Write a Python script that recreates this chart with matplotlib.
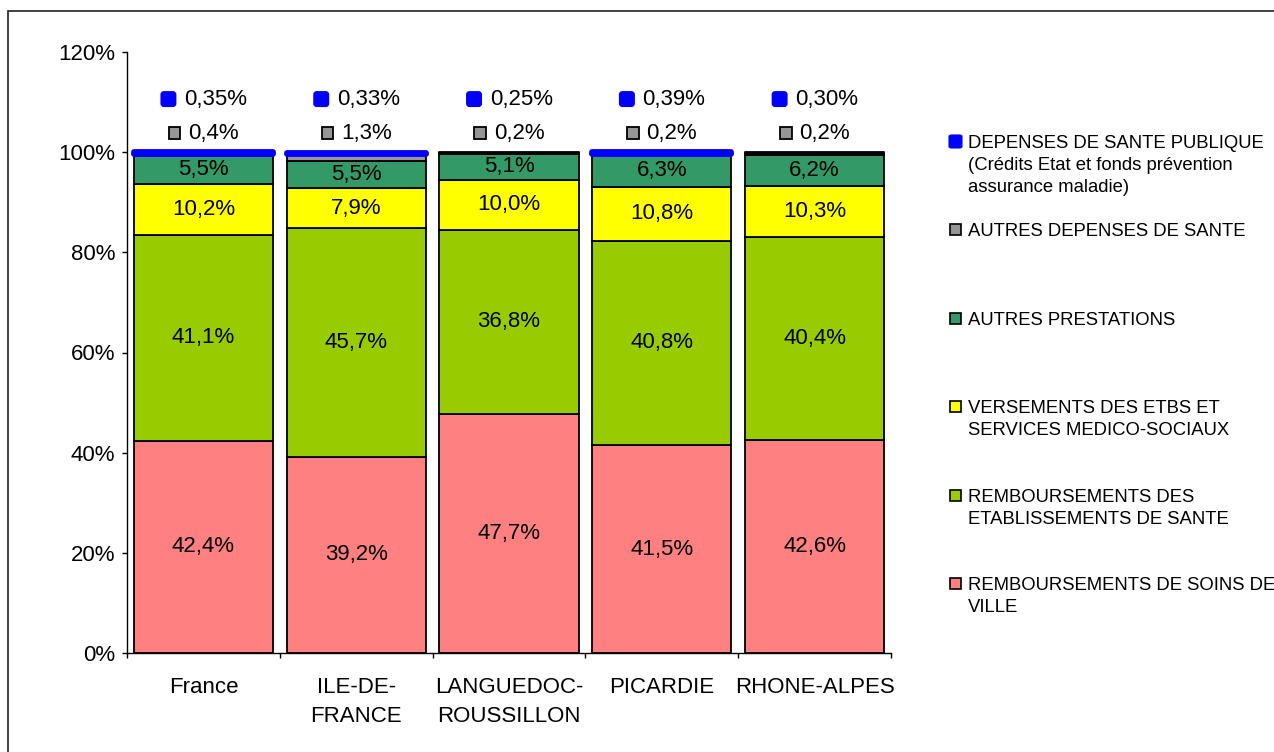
import matplotlib
matplotlib.use("Agg")
import matplotlib.pyplot as plt
import numpy as np
from matplotlib.patches import Rectangle, FancyBboxPatch
from matplotlib.offsetbox import HPacker, TextArea, DrawingArea, AnnotationBbox

plt.rcParams['font.family'] = ['Liberation Sans', 'DejaVu Sans']

# Regions and the share (%) of each spending item
regions = ['France', 'ILE-DE-\nFRANCE', 'LANGUEDOC-\nROUSSILLON', 'PICARDIE', 'RHONE-ALPES']
soins_ville = [42.4, 39.2, 47.7, 41.5, 42.6]
etablissements = [41.1, 45.7, 36.8, 40.8, 40.4]
medico_social = [10.2, 7.9, 10.0, 10.8, 10.3]
autres_prestations = [5.5, 5.5, 5.1, 6.3, 6.2]
autres_depenses = [0.4, 1.3, 0.2, 0.2, 0.2]
sante_publique = [0.35, 0.33, 0.25, 0.39, 0.30]

series_names = [
    'REMBOURSEMENTS DE SOINS DE\nVILLE',
    'REMBOURSEMENTS DES\nETABLISSEMENTS DE SANTE',
    'VERSEMENTS DES ETBS ET\nSERVICES MEDICO-SOCIAUX',
    'AUTRES PRESTATIONS',
    'AUTRES DEPENSES DE SANTE',
    'DEPENSES DE SANTE PUBLIQUE\n(Crédits Etat et fonds prévention\nassurance maladie)',
]
colors = ['#FF8080', '#99CC00', '#FFFF00', '#339966', '#969696', '#0000FF']

W, H = 1274, 752
fig = plt.figure(figsize=(W / 100, H / 100), dpi=100)
ax = fig.add_axes([127 / W, 1 - 653 / H, (891 - 127) / W, (653 - 52) / H])

x = np.arange(len(regions))
width = 0.91
stack = [soins_ville, etablissements, medico_social, autres_prestations, autres_depenses]
bottom = np.zeros(len(regions))
for vals, col in zip(stack, colors[:5]):
    vals = np.asarray(vals, dtype=float)
    ax.bar(x, vals, width, bottom=bottom, color=col, edgecolor='black', linewidth=1.3, zorder=2)
    bottom += vals

# thin public-health slice: emphasised with a thick outline when tall enough to render
pub = np.asarray(sante_publique, dtype=float)
visible = pub >= 0.32
bars = ax.bar(x, pub, width, bottom=bottom, color=colors[5],
              edgecolor=['#0000FF' if v else 'black' for v in visible],
              linewidth=[4.2 if v else 1.3 for v in visible], zorder=3)
for b in bars:
    b.set_joinstyle('round')

# values inside the segments
def fmt(v, nd=1):
    return f"{v:.{nd}f}".replace('.', ',') + '%'

bottom = np.zeros(len(regions))
for vals in stack[:4]:
    vals = np.asarray(vals, dtype=float)
    for xi, b, v in zip(x, bottom, vals):
        ax.text(xi, b + v / 2, fmt(v), ha='center', va='center', fontsize=16, zorder=4)
    bottom += vals

# labels for the two small items, above the bars
def marker_label(value_text, color, blue):
    if blue:
        da = DrawingArea(12.5, 12.5, 0, 0)
        da.add_artist(FancyBboxPatch((1, 1), 10.5, 10.5, boxstyle='round,pad=0,rounding_size=2',
                                     facecolor=color, edgecolor=color, linewidth=1))
    else:
        da = DrawingArea(9.5, 9.5, 0, 0)
        da.add_artist(Rectangle((0.6, 0.6), 8.3, 8.3, facecolor=color, edgecolor='black', linewidth=1.3))
    ta = TextArea(value_text, textprops=dict(fontsize=16))
    return HPacker(children=[da, ta], align='center', pad=0, sep=5)

for xi, g, p in zip(x, autres_depenses, sante_publique):
    for val, y, col, blue, nd in [(g, 103.8, colors[4], False, 1), (p, 110.6, colors[5], True, 2)]:
        ab = AnnotationBbox(marker_label(fmt(val, nd), col, blue), (xi, y),
                            frameon=False, box_alignment=(0.5, 0.5), pad=0)
        ax.add_artist(ab)

# axes
ax.set_xlim(-0.5, len(regions) - 0.5)
ax.set_ylim(0, 120)
ax.set_yticks(np.arange(0, 121, 20))
ax.set_yticklabels([f"{v}%" for v in range(0, 121, 20)], fontsize=16)
ax.set_xticks(x)
ax.set_xticklabels(regions, fontsize=16, linespacing=1.55)
ax.set_xticks(np.arange(-0.5, len(regions), 1), minor=True)
ax.tick_params(axis='x', which='major', length=0, pad=17)
ax.tick_params(axis='x', which='minor', length=3.6, width=1, direction='out')
ax.tick_params(axis='y', length=3.6, width=1, direction='out', pad=5)
for s in ['top', 'right']:
    ax.spines[s].set_visible(False)
for s in ['left', 'bottom']:
    ax.spines[s].set_linewidth(1)

# legend, listed from top to bottom in reverse stacking order
legend_x_marker = 950
legend_x_text = 968
first_y = 141
step = 88.4
for i, (name, col) in enumerate(zip(series_names[::-1], colors[::-1])):
    cy = first_y + i * step
    if col == '#0000FF':
        fig.add_artist(FancyBboxPatch(((legend_x_marker - 1) / W, 1 - (cy + 7) / H), 13 / W, 13 / H,
                                      boxstyle='round,pad=0,rounding_size=0.002',
                                      transform=fig.transFigure, facecolor=col, edgecolor=col,
                                      linewidth=0.8))
    else:
        fig.add_artist(Rectangle((legend_x_marker / W, 1 - (cy + 6) / H), 11 / W, 11 / H,
                                 transform=fig.transFigure, facecolor=col, edgecolor='black',
                                 linewidth=1.2))
    for j, line in enumerate(name.split('\n')):
        fig.text(legend_x_text / W, 1 - (cy + 7 + j * 22) / H, line, fontsize=13.3,
                 ha='left', va='baseline')

# chart frame
fig.add_artist(Rectangle((8 / W, -0.1), 1.2, 1.1 - 11 / H, transform=fig.transFigure,
                         fill=False, edgecolor='#333333', linewidth=1.3))

fig.savefig('out.png', dpi=100)
